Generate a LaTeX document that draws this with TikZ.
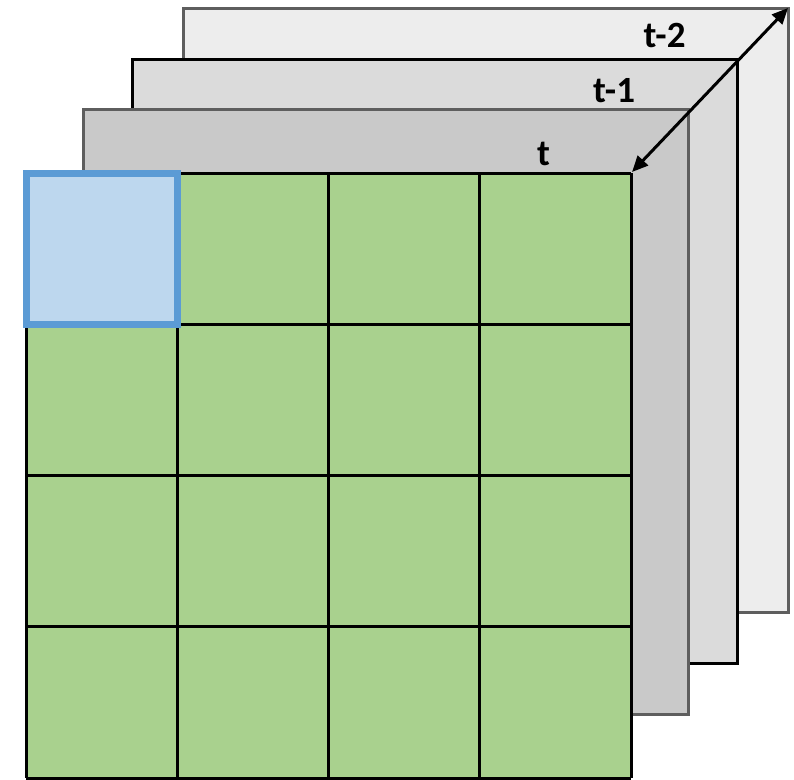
\documentclass[tikz,border=0pt]{standalone}
\usepackage{fontspec}
\setmainfont{Carlito}
\usetikzlibrary{arrows.meta}
\definecolor{layerA}{HTML}{EDEDED}
\definecolor{layerB}{HTML}{DBDBDB}
\definecolor{layerC}{HTML}{C9C9C9}
\definecolor{edgegray}{HTML}{5E5E5E}
\definecolor{cellgreen}{HTML}{A9D18E}
\definecolor{cellblue}{HTML}{BDD7EE}
\definecolor{bluestroke}{HTML}{5B9BD5}
\tikzset{
  layer/.style={line width=3pt},
  gridline/.style={line width=3pt, draw=black},
  lbl/.style={font=\fontsize{37}{44}\selectfont\bfseries, inner sep=0pt, anchor=base},
  span/.style={line width=3pt, {Triangle[length=16pt,width=14pt]}-{Triangle[length=16pt,width=14pt]}}
}
\begin{document}
\begin{tikzpicture}[x=1pt,y=-1pt]
\useasboundingbox (0,0) rectangle (794,779);
% stacked frames, back to front
\draw[layer, fill=layerA, draw=edgegray] (183,8) rectangle (788,612);
\draw[layer, fill=layerB, draw=black] (132,59) rectangle (737,663);
\draw[layer, fill=layerC, draw=edgegray] (83,109) rectangle (688,714);
% current frame: 4x4 grid of cells
\fill[cellgreen] (26,173) rectangle (631,778);
\foreach \x in {26,177.25,328.5,479.75,631}
  \draw[gridline] (\x,173) -- (\x,778);
\foreach \y in {173,324.25,475.5,626.75,778}
  \draw[gridline] (26,\y) -- (631,\y);
% highlighted cell
\draw[line width=7pt, draw=bluestroke, fill=cellblue] (26,173) rectangle (177.25,324.25);
% depth arrow between front and back corners
\coordinate (front) at (632,172);
\coordinate (back) at (788,8);
\draw[span] (front) -- (back);
% frame labels
\node[lbl] (lt2) at (664.5,47) {t-2};
\node[lbl] (lt1) at (614,102) {t-1};
\node[lbl] (lt) at (543.5,165) {t};
\end{tikzpicture}
\end{document}
